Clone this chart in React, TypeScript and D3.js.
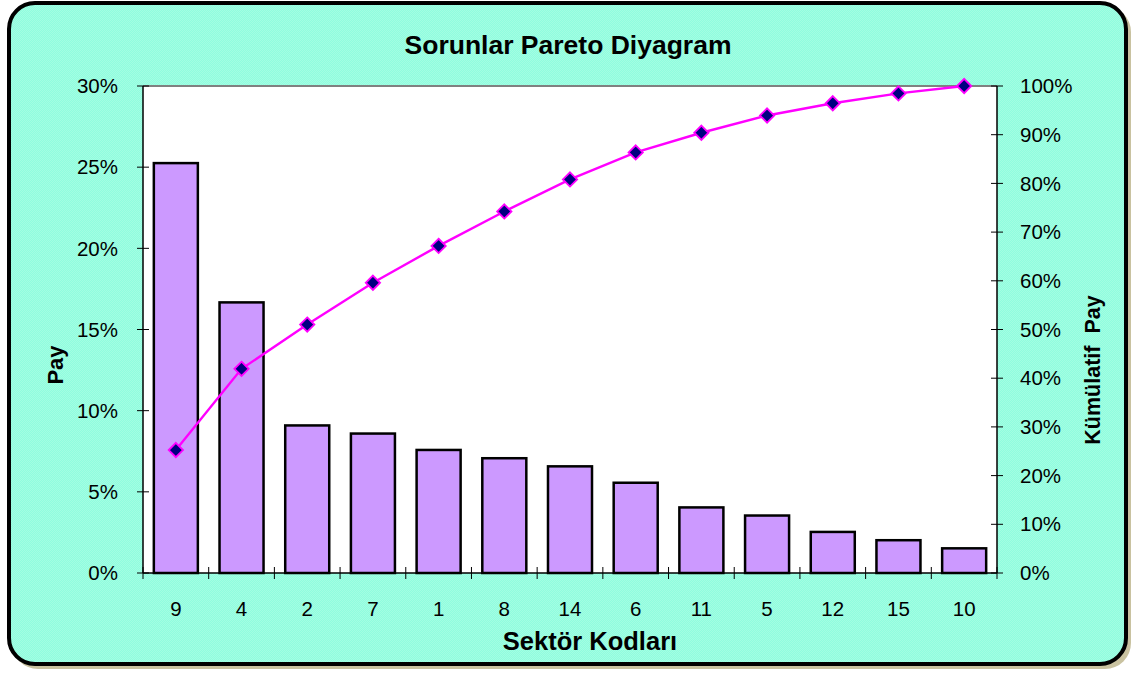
import React, { useEffect, useRef } from "react";
import * as d3 from "d3";

const categories = ["9", "4", "2", "7", "1", "8", "14", "6", "11", "5", "12", "15", "10"];
const pay = [25.25, 16.67, 9.09, 8.59, 7.58, 7.07, 6.57, 5.56, 4.04, 3.54, 2.53, 2.02, 1.52];
const cumulative = [25.25, 41.92, 51.01, 59.6, 67.17, 74.24, 80.81, 86.36, 90.4, 93.94, 96.46, 98.48, 100];
const leftTicks = [0, 5, 10, 15, 20, 25, 30];
const rightTicks = [0, 10, 20, 30, 40, 50, 60, 70, 80, 90, 100];

const W = 1133, H = 675;
const FONT = "'Liberation Sans', Arial, sans-serif";

export default function App() {
  const ref = useRef<SVGSVGElement>(null);
  useEffect(() => {
    const svg = d3.select(ref.current);
    svg.selectAll("*").remove();

    const defs = svg.append("defs");
    const pat = defs.append("pattern").attr("id", "dots").attr("width", 2).attr("height", 2).attr("patternUnits", "userSpaceOnUse");
    pat.append("rect").attr("width", 2).attr("height", 2).attr("fill", "#8ffddf");
    pat.append("rect").attr("width", 1).attr("height", 1).attr("fill", "#a4fde2");
    pat.append("rect").attr("x", 1).attr("y", 1).attr("width", 1).attr("height", 1).attr("fill", "#a4fde2");

    // frame shadow + frame
    svg.append("rect").attr("x", 12).attr("y", 6).attr("width", 1119).attr("height", 663).attr("rx", 26)
      .attr("fill", "#c9c2a0");
    svg.append("rect").attr("x", 9).attr("y", 3).attr("width", 1117).attr("height", 661).attr("rx", 26)
      .attr("fill", "url(#dots)").attr("stroke", "#000").attr("stroke-width", 4);

    const L = 143, R = 997, T = 86, B = 573;
    const x = d3.scaleBand<string>().domain(categories).range([L, R]).paddingInner(0.33).paddingOuter(0.165);
    const xb = d3.scaleBand<string>().domain(categories).range([L, R]);
    const yL = d3.scaleLinear().domain([0, 30]).range([B, T]);
    const yR = d3.scaleLinear().domain([0, 100]).range([B, T]);

    svg.append("rect").attr("x", L).attr("y", T).attr("width", R - L).attr("height", B - T).attr("fill", "#fff");
    svg.append("line").attr("x1", L).attr("x2", R).attr("y1", T).attr("y2", T).attr("stroke", "#808080").attr("stroke-width", 2);

    // bars
    svg.append("g").selectAll("rect").data(pay).join("rect")
      .attr("x", (_, i) => x(categories[i])!)
      .attr("width", x.bandwidth())
      .attr("y", d => yL(d))
      .attr("height", d => B - yL(d))
      .attr("fill", "#cc99ff").attr("stroke", "#000").attr("stroke-width", 2.5);

    // axes
    const ax = svg.append("g").attr("stroke", "#000").attr("stroke-width", 1);
    ax.append("line").attr("x1", L).attr("x2", L).attr("y1", T).attr("y2", B).attr("stroke-width", 1.5);
    ax.append("line").attr("x1", R).attr("x2", R).attr("y1", T).attr("y2", B).attr("stroke-width", 1.5);
    ax.append("line").attr("x1", L).attr("x2", R).attr("y1", B).attr("y2", B).attr("stroke-width", 1.5);
    ax.selectAll(".lt").data(leftTicks).join("line").attr("class", "lt")
      .attr("x1", L - 6).attr("x2", L + 6).attr("y1", d => yL(d)).attr("y2", d => yL(d));
    ax.selectAll(".rt").data(rightTicks).join("line").attr("class", "rt")
      .attr("x1", R - 6).attr("x2", R + 6).attr("y1", d => yR(d)).attr("y2", d => yR(d));
    const bounds = categories.map(c => xb(c)!).concat([R]);
    ax.selectAll(".xt").data(bounds).join("line").attr("class", "xt")
      .attr("x1", d => d).attr("x2", d => d).attr("y1", B - 6).attr("y2", B + 6);

    const txt = svg.append("g").attr("font-family", FONT).attr("fill", "#000");
    txt.selectAll(".ll").data(leftTicks).join("text").attr("class", "ll")
      .attr("x", 118).attr("y", d => yL(d)).attr("dy", "0.35em").attr("text-anchor", "end")
      .attr("font-size", 20.5).text(d => d + "%");
    txt.selectAll(".rl").data(rightTicks).join("text").attr("class", "rl")
      .attr("x", 1020).attr("y", d => yR(d)).attr("dy", "0.35em").attr("text-anchor", "start")
      .attr("font-size", 20.5).text(d => d + "%");
    txt.selectAll(".xl").data(categories).join("text").attr("class", "xl")
      .attr("x", d => xb(d)! + xb.bandwidth() / 2).attr("y", 609).attr("dy", "0.35em").attr("text-anchor", "middle")
      .attr("font-size", 20.5).text(d => d);

    txt.append("text").attr("x", 568).attr("y", 45).attr("dy", "0.35em").attr("text-anchor", "middle")
      .attr("font-size", 26.5).attr("font-weight", "bold").text("Sorunlar Pareto Diyagram");
    txt.append("text").attr("x", 590).attr("y", 641).attr("dy", "0.35em").attr("text-anchor", "middle")
      .attr("font-size", 25.5).attr("font-weight", "bold").text("Sektör Kodları");
    txt.append("text").attr("transform", "translate(55,365) rotate(-90)").attr("dy", "0.35em").attr("text-anchor", "middle")
      .attr("font-size", 22).attr("font-weight", "bold").text("Pay");
    txt.append("text").attr("transform", "translate(1092,370) rotate(-90)").attr("dy", "0.35em").attr("text-anchor", "middle")
      .attr("font-size", 21.5).attr("font-weight", "bold").style("white-space", "pre").text("Kümülatif  Pay");

    // cumulative line
    const cx = (i: number) => xb(categories[i])! + xb.bandwidth() / 2;
    const line = d3.line<number>().x((_, i) => cx(i)).y(d => yR(d));
    svg.append("path").datum(cumulative).attr("d", line).attr("fill", "none").attr("stroke", "#ff00ff").attr("stroke-width", 2.4);
    svg.append("g").selectAll("path").data(cumulative).join("path")
      .attr("transform", (d, i) => `translate(${cx(i)},${yR(d)})`)
      .attr("d", d3.symbol().type(d3.symbolDiamond2).size(130)())
      .attr("fill", "#000080").attr("stroke", "#ff00ff").attr("stroke-width", 1.8);
  }, []);
  return (
    <svg ref={ref} width={W} height={H} style={{ position: "absolute", left: 0, top: 0, display: "block" }} />
  );
}
